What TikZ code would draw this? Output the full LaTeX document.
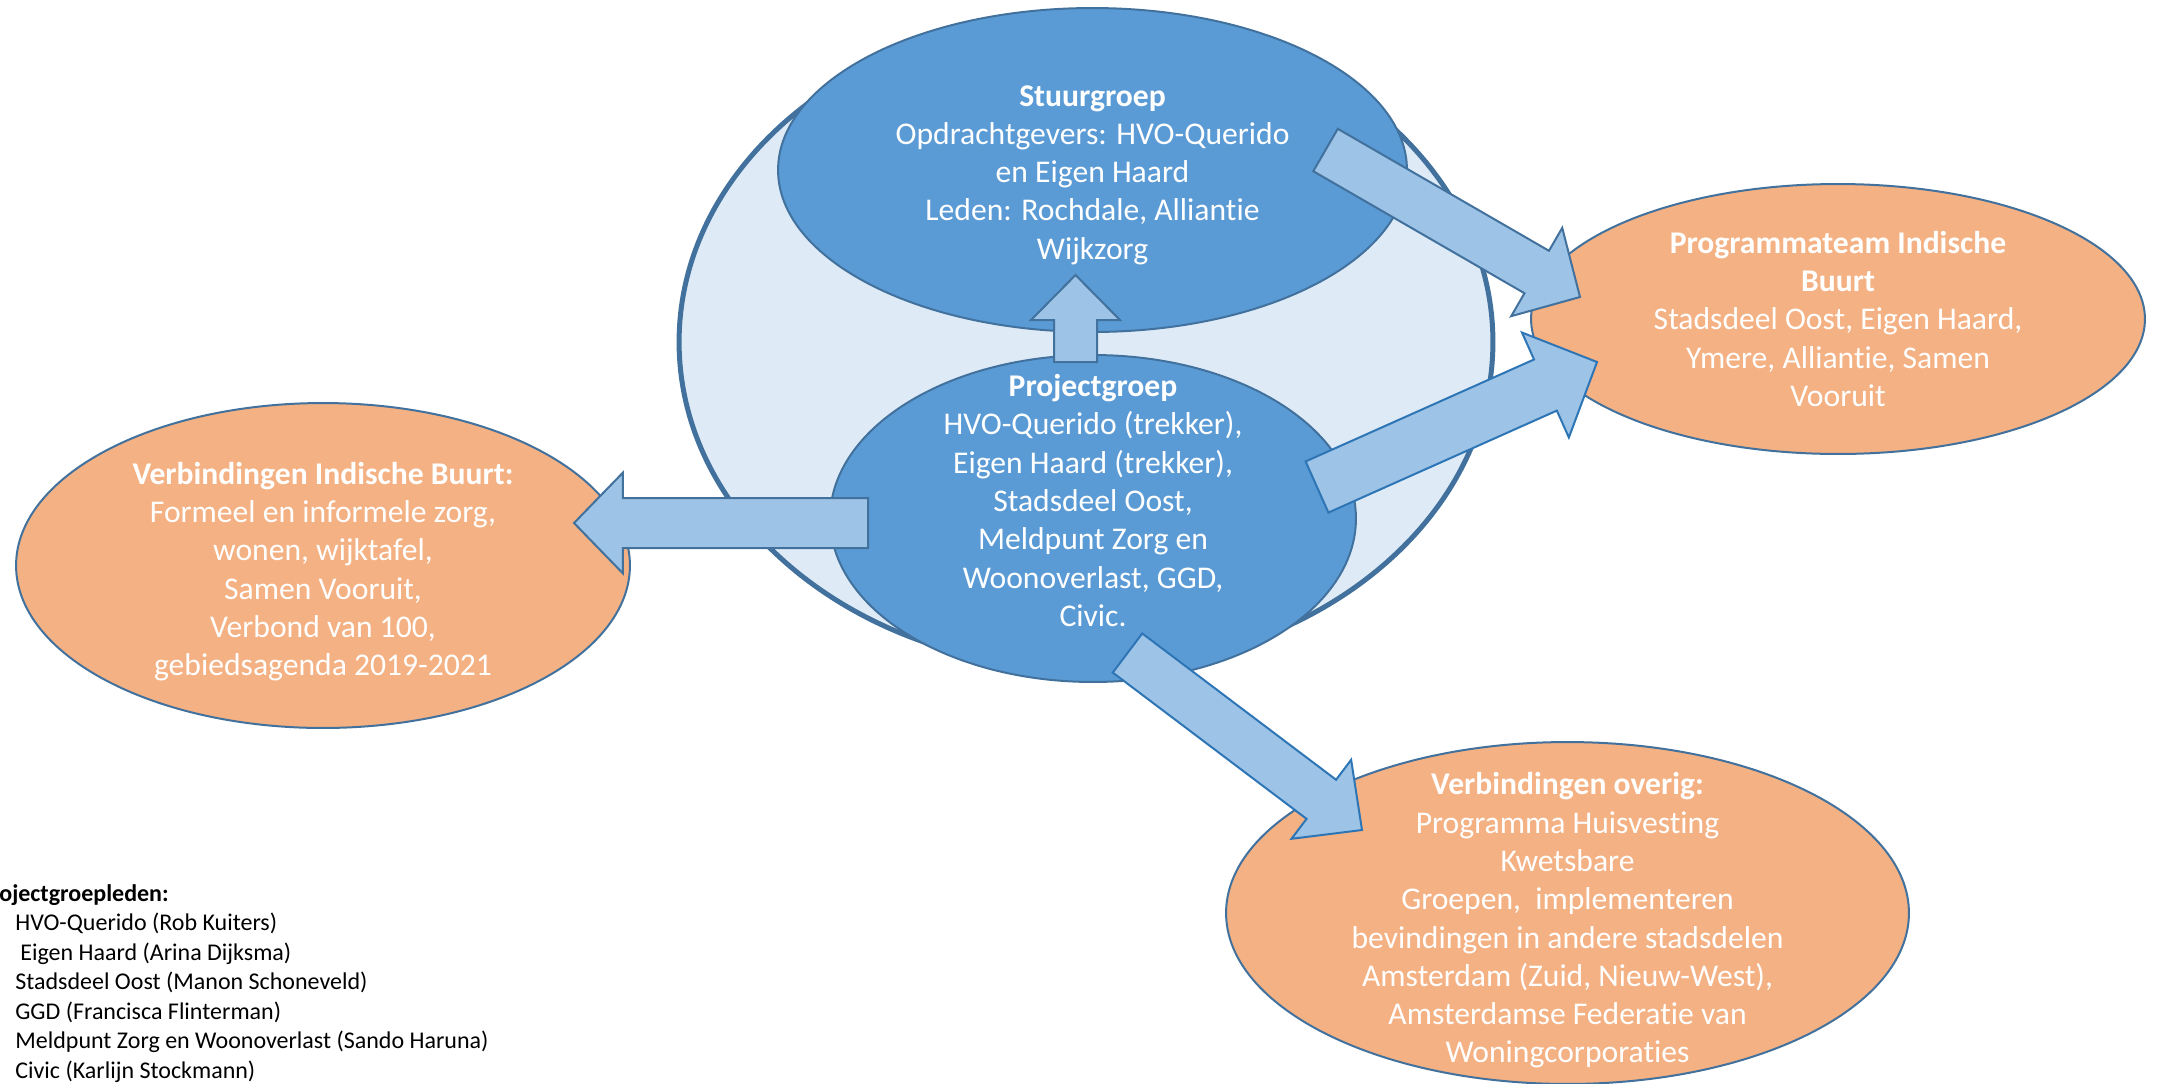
\documentclass[tikz,border=0pt]{standalone}
\usepackage{fontspec}
\setmainfont{Carlito}[Ligatures=NoCommon]
\usetikzlibrary{shapes.geometric,calc}
\definecolor{kernvul}{HTML}{DEEBF7}
\definecolor{rand}{HTML}{41719C}
\definecolor{groepblauw}{HTML}{5B9BD5}
\definecolor{pijlblauw}{HTML}{9DC3E6}
\definecolor{pijlrand}{HTML}{2E75B6}
\definecolor{oranje}{HTML}{F4B183}
\newcommand{\blokpijl}[6][]{%
  \coordinate (hb) at ($(#3)!#6!(#2)$);
  \draw[pijl,#1] ($(#2)!#4!90:(#3)$) -- ($(hb)!#4!90:(#3)$) -- ($(hb)!#5!90:(#3)$)
    -- (#3) -- ($(hb)!#5!-90:(#3)$) -- ($(hb)!#4!-90:(#3)$) -- ($(#2)!#4!-90:(#3)$) -- cycle;}

\begin{document}
\begin{tikzpicture}
[x=0.02cm,y=-0.02cm,
kern/.style={ellipse,fill=kernvul,draw=rand,line width=0.1cm,minimum width=16.28cm,minimum height=13.08cm},
groep/.style={ellipse,fill=groepblauw,draw=rand,line width=0.04cm},
buurt/.style={ellipse,fill=oranje,draw=rand,line width=0.04cm},
tekst/.style={text=white,align=center,inner sep=0pt,font=\fontsize{18}{21.8}\selectfont},
pijl/.style={fill=pijlblauw,draw=rand,line width=0.04cm,line join=miter},
]
\path[use as bounding box,clip] (0,0) rectangle (2159,1083);
\node[kern] (kern) at (1086,342) {};
\node[groep,minimum width=12.58cm,minimum height=6.48cm] (stuur) at (1092.5,170) {};
\node[groep,minimum width=10.52cm,minimum height=6.54cm] (project) at (1093,518.5) {};
\node[buurt,minimum width=12.28cm,minimum height=5.4cm] (programma) at (1838,319) {};
\node[buurt,minimum width=12.28cm,minimum height=6.5cm] (indisch) at (323,565.5) {};
\node[buurt,minimum width=13.66cm,minimum height=6.84cm] (overig) at (1567.5,913) {};
\node[tekst,yshift=-0.1cm] (stuurtxt) at (stuur.center)
  {\textbf{Stuurgroep}\\Opdrachtgevers: HVO-Querido\\en Eigen Haard\\Leden: Rochdale, Alliantie\\Wijkzorg};
\node[tekst,yshift=0.36cm] (projecttxt) at (project.center)
  {\textbf{Projectgroep}\\HVO-Querido (trekker),\\Eigen Haard (trekker),\\Stadsdeel Oost,\\Meldpunt Zorg en\\Woonoverlast, GGD,\\Civic.};
\node[tekst] (programmatxt) at (programma.center)
  {\textbf{Programmateam Indische}\\\textbf{Buurt}\\Stadsdeel Oost, Eigen Haard,\\Ymere, Alliantie, Samen\\Vooruit};
\node[tekst,yshift=-0.12cm] (indischtxt) at (indisch.center)
  {\textbf{Verbindingen Indische Buurt:}\\Formeel en informele zorg,\\wonen, wijktafel,\\Samen Vooruit,\\Verbond van 100,\\gebiedsagenda 2019-2021};
\node[tekst,yshift=-0.15cm] (overigtxt) at (overig.center)
  {\textbf{Verbindingen overig:}\\Programma Huisvesting\\Kwetsbare\\Groepen,\ \ implementeren\\bevindingen in andere stadsdelen\\Amsterdam (Zuid, Nieuw-West),\\Amsterdamse Federatie van\\Woningcorporaties};
\node[anchor=north west,align=left,inner sep=0pt,font=\fontsize{13.66}{16.8}\selectfont] (leden) at (-22,884)
  {\textbf{Projectgroepleden:}\\
   \hspace*{0.74cm}HVO-Querido (Rob Kuiters)\\
   \hspace*{0.84cm}Eigen Haard (Arina Dijksma)\\
   \hspace*{0.74cm}Stadsdeel Oost (Manon Schoneveld)\\
   \hspace*{0.74cm}GGD (Francisca Flinterman)\\
   \hspace*{0.74cm}Meldpunt Zorg en Woonoverlast (Sando Haruna)\\
   \hspace*{0.74cm}Civic (Karlijn Stockmann)};
\coordinate (pgN) at (1075.5,362); \coordinate (sgS) at (1075.5,275);
\coordinate (pgW) at (868,523); \coordinate (ibE) at (574,523);
\coordinate (sgE) at (1325.5,150); \coordinate (ptW) at (1580,297);
\coordinate (pgE) at (1317,487); \coordinate (ptS) at (1597,362);
\coordinate (pgSE) at (1127.5,653); \coordinate (voN) at (1362,830);
\blokpijl{pgN}{sgS}{0.43cm}{0.89cm}{0.9cm}
\blokpijl{pgW}{ibE}{0.5cm}{1.01cm}{0.98cm}
\blokpijl{sgE}{ptW}{0.49cm}{1.02cm}{1.0cm}
\blokpijl[draw=pijlrand]{pgE}{ptS}{0.56cm}{1.15cm}{1.13cm}
\blokpijl[draw=pijlrand]{pgSE}{voN}{0.49cm}{0.99cm}{1.02cm}
\end{tikzpicture}
\end{document}
